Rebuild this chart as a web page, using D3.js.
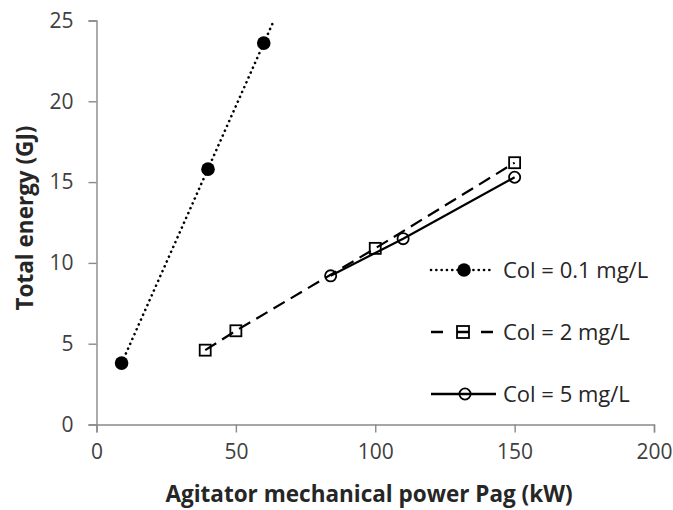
<!DOCTYPE html>
<html>
<head>
<meta charset="utf-8">
<script src="https://cdn.jsdelivr.net/npm/d3@7"></script>
<style>
  body { margin: 0; background: #fff; }
  text { font-family: "Open Sans", sans-serif; }
</style>
</head>
<body>
<div id="chart"></div>
<script>
// data
var col01X = [9, 40, 60],
    col01Y = [3.8, 15.8, 23.6];
var col2X = [39, 50, 100, 150],
    col2Y = [4.6, 5.8, 10.9, 16.2];
var col5X = [84, 110, 150],
    col5Y = [9.2, 11.5, 15.3];
var xTicks = [0, 50, 100, 150, 200],
    yTicks = [0, 5, 10, 15, 20, 25];
var legendLabels = ["Col = 0.1 mg/L", "Col = 2 mg/L", "Col = 5 mg/L"];

var margin = {top: 20.5, right: 19, bottom: 85.5, left: 96.5},
    width = 673 - margin.left - margin.right,
    height = 510 - margin.top - margin.bottom;

var svg = d3.select("#chart")
  .append("svg")
    .attr("width", 673)
    .attr("height", 510)
  .append("g")
    .attr("transform", "translate(" + margin.left + "," + margin.top + ")");

var x = d3.scaleLinear().domain([0, 200]).range([0, width]);
var y = d3.scaleLinear().domain([0, 25]).range([height, 0]);

var axisColor = "#898989";

// X axis
var gx = svg.append("g")
  .attr("transform", "translate(0," + height + ")")
  .call(d3.axisBottom(x).tickValues(xTicks).tickSize(8).tickPadding(12));
// Y axis
var gy = svg.append("g")
  .call(d3.axisLeft(y).tickValues(yTicks).tickSize(8).tickPadding(15));

[gx, gy].forEach(function (g) {
  g.select(".domain").attr("stroke", axisColor).attr("stroke-width", 1.4);
  g.selectAll(".tick line").attr("stroke", axisColor).attr("stroke-width", 1.4);
  g.selectAll(".tick text")
    .attr("fill", "#404040")
    .style("font-size", "21px");
});
gx.selectAll(".tick text").attr("dy", "0.71em");

// axis titles
svg.append("text")
  .attr("x", 369 - margin.left)
  .attr("y", height + 77)
  .attr("text-anchor", "middle")
  .style("font-size", "22.5px")
  .style("font-weight", "bold")
  .attr("fill", "#262626")
  .text("Agitator mechanical power Pag (kW)");

svg.append("text")
  .attr("transform", "translate(" + (-64) + "," + (218 - margin.top) + ") rotate(-90)")
  .attr("text-anchor", "middle")
  .style("font-size", "22.5px")
  .style("font-weight", "bold")
  .attr("fill", "#262626")
  .text("Total energy (GJ)");

function pts(xs, ys) {
  return xs.map(function (d, i) { return [d, ys[i]]; });
}

// series 1: linear trendline (forward to the top of the axis)
var s1 = pts(col01X, col01Y);
var mx = d3.mean(col01X), my = d3.mean(col01Y);
var slope = d3.sum(s1, function (d) { return (d[0] - mx) * (d[1] - my); }) /
            d3.sum(col01X, function (d) { return (d - mx) * (d - mx); });
var icpt = my - slope * mx;
var xEnd = (25 - icpt) / slope;
svg.append("line")
  .attr("x1", x(d3.min(col01X))).attr("y1", y(icpt + slope * d3.min(col01X)))
  .attr("x2", x(xEnd)).attr("y2", y(25))
  .attr("stroke", "#000")
  .attr("stroke-width", 2.6)
  .attr("stroke-linecap", "round")
  .attr("stroke-dasharray", "0.1,5.2");

var line = d3.line()
  .x(function (d) { return x(d[0]); })
  .y(function (d) { return y(d[1]); });

// series 2: dashed
svg.append("path")
  .datum(pts(col2X, col2Y))
  .attr("d", line)
  .attr("fill", "none")
  .attr("stroke", "#000")
  .attr("stroke-width", 2.2)
  .attr("stroke-dasharray", "13,7");

// series 3: solid
svg.append("path")
  .datum(pts(col5X, col5Y))
  .attr("d", line)
  .attr("fill", "none")
  .attr("stroke", "#000")
  .attr("stroke-width", 2.2);

// markers
svg.append("g").selectAll("circle")
  .data(s1).enter().append("circle")
    .attr("cx", function (d) { return x(d[0]); })
    .attr("cy", function (d) { return y(d[1]); })
    .attr("r", 6.8)
    .attr("fill", "#000");

svg.append("g").selectAll("rect")
  .data(pts(col2X, col2Y)).enter().append("rect")
    .attr("x", function (d) { return x(d[0]) - 5.5; })
    .attr("y", function (d) { return y(d[1]) - 5.5; })
    .attr("width", 11)
    .attr("height", 11)
    .attr("fill", "none")
    .attr("stroke", "#000")
    .attr("stroke-width", 1.8);

svg.append("g").selectAll("circle")
  .data(pts(col5X, col5Y)).enter().append("circle")
    .attr("cx", function (d) { return x(d[0]); })
    .attr("cy", function (d) { return y(d[1]); })
    .attr("r", 5.6)
    .attr("fill", "none")
    .attr("stroke", "#000")
    .attr("stroke-width", 1.8);

// legend
var legend = svg.append("g")
  .attr("transform", "translate(" + (431 - margin.left) + "," + (270 - margin.top) + ")");
var rowGap = 62;

legendLabels.forEach(function (lab, i) {
  var g = legend.append("g").attr("transform", "translate(0," + i * rowGap + ")");
  var ln = g.append("line")
    .attr("x1", 0).attr("x2", i == 2 ? 65 : 62)
    .attr("y1", 0).attr("y2", 0)
    .attr("stroke", "#000");
  if (i == 0) {
    ln.attr("stroke-width", 2.6).attr("stroke-linecap", "round").attr("stroke-dasharray", "0.1,5.2");
    g.append("circle").attr("cx", 33).attr("cy", 0).attr("r", 6.8).attr("fill", "#000");
  } else if (i == 1) {
    ln.attr("stroke-width", 2.4).attr("stroke-dasharray", "12,14,12,12,12");
    g.append("rect").attr("x", 26).attr("y", -6).attr("width", 12).attr("height", 12)
      .attr("fill", "none").attr("stroke", "#000").attr("stroke-width", 1.8);
  } else {
    ln.attr("stroke-width", 2.4);
    g.append("circle").attr("cx", 34).attr("cy", 0).attr("r", 5.6)
      .attr("fill", "none").attr("stroke", "#000").attr("stroke-width", 1.8);
  }
  g.append("text")
    .attr("x", 72)
    .attr("y", 0)
    .attr("dy", "0.35em")
    .style("font-size", "22px")
    .attr("fill", "#262626")
    .text(lab);
});
</script>
</body>
</html>
